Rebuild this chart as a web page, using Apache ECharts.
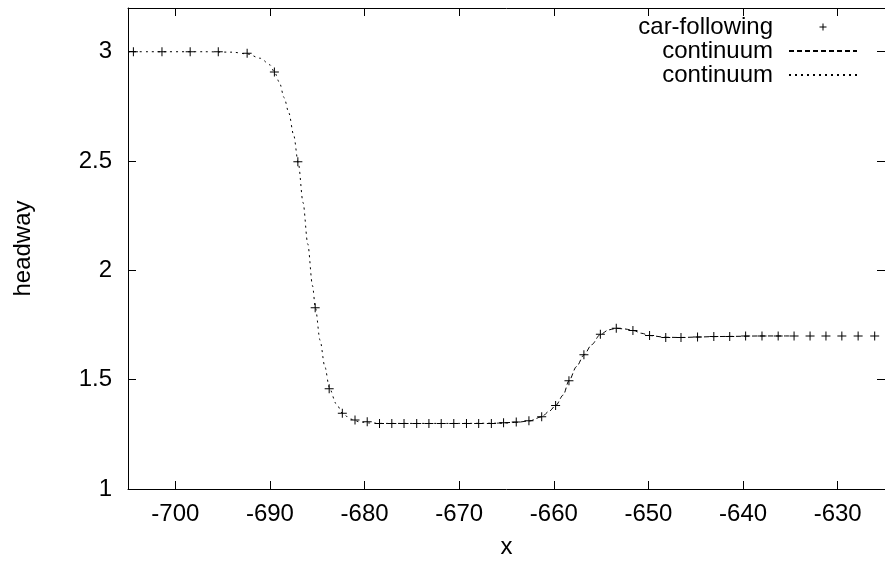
<!DOCTYPE html>
<html><head><meta charset="utf-8">
<script src="https://cdn.jsdelivr.net/npm/echarts@6/dist/echarts.min.js"></script>
<style>html,body{margin:0;padding:0;background:#fff}#c{width:885px;height:564px}</style>
</head><body><div id="c"></div>
<script>
// car-following positions (x) and headways (y)
const carX = [-704.43, -701.41, -698.43, -695.46, -692.41, -689.53, -687.05, -685.22, -683.74, -682.35,
  -681.01, -679.72, -678.42, -677.12, -675.83, -674.49, -673.20, -671.90, -670.57, -669.23,
  -667.94, -666.60, -665.31, -663.97, -662.63, -661.28, -659.81, -658.40, -656.82, -655.08,
  -653.40, -651.64, -649.88, -648.17, -646.56, -644.81, -643.09, -641.41, -639.73, -638.00,
  -636.29, -634.61, -632.92, -631.24, -629.56, -627.84, -626.09];
const carY = [3.0, 3.0, 3.0, 3.0, 2.993, 2.907, 2.497, 1.829, 1.459, 1.347,
  1.316, 1.308, 1.300, 1.300, 1.300, 1.300, 1.300, 1.300, 1.300, 1.300,
  1.300, 1.300, 1.303, 1.306, 1.312, 1.330, 1.382, 1.495, 1.614, 1.708,
  1.735, 1.725, 1.702, 1.693, 1.693, 1.695, 1.697, 1.698, 1.70, 1.70,
  1.70, 1.70, 1.70, 1.70, 1.70, 1.70, 1.70];
// continuum solution, dashed part (right)
const dashedX = [-666, -664, -662.6, -661.3, -660.5, -659.8, -659, -658.4, -657.6, -656.8, -656, -655.1,
  -654.2, -653.4, -652.5, -651.6, -650.7, -649.9, -648.2, -646.6, -644.8, -643.1, -641.4, -638, -635];
const dashedY = [1.301, 1.305, 1.311, 1.33, 1.355, 1.382, 1.43, 1.495, 1.56, 1.614, 1.66, 1.706,
  1.728, 1.735, 1.732, 1.725, 1.712, 1.702, 1.694, 1.693, 1.695, 1.697, 1.698, 1.70, 1.70];
// continuum solution, dotted part (left)
const dottedX = [-705, -697, -694, -692.4, -691, -690, -689.5, -689, -688.5, -688, -687.5, -687, -686.5, -686,
  -685.5, -685.2, -684.7, -684.2, -683.7, -683, -682.3, -681.5, -680.5, -679.5, -678, -670, -666, -664];
const dottedY = [3.0, 3.0, 2.998, 2.99, 2.97, 2.94, 2.905, 2.86, 2.79, 2.72, 2.62, 2.49, 2.31, 2.12,
  1.93, 1.83, 1.68, 1.56, 1.46, 1.39, 1.345, 1.32, 1.307, 1.302, 1.30, 1.30, 1.301, 1.305];
const xTicks = [-700, -690, -680, -670, -660, -650, -640, -630];
const yTicks = [1, 1.5, 2, 2.5, 3];

const FONT = "'Liberation Sans', Arial, sans-serif";
const FS = 24;
const plus = 'path://M0,4L9,4L9,5L0,5Z M4,0L5,0L5,9L4,9Z';
const legendPlus = 'path://M0,3L7,3L7,4L0,4Z M3,0L4,0L4,7L3,7Z';
const zip = (xs, ys) => xs.map((x, i) => [x, ys[i]]);

const axisLine = { show: true, lineStyle: { color: '#000', width: 1 } };
function xAx(pos, showLabel) {
  return {
    type: 'value', position: pos, min: -705, max: -625,
    axisLine: axisLine,
    axisTick: { show: true, inside: true, length: 8, customValues: xTicks, lineStyle: { color: '#000' } },
    axisLabel: { show: showLabel, customValues: xTicks, margin: 13, color: '#000', fontFamily: FONT, fontSize: FS },
    splitLine: { show: false },
    name: showLabel ? 'x' : '', nameLocation: 'middle', nameGap: 46,
    nameTextStyle: { color: '#000', fontFamily: FONT, fontSize: FS }
  };
}
function yAx(pos, showLabel) {
  return {
    type: 'value', position: pos, min: 1, max: 3.2,
    axisLine: axisLine,
    axisTick: { show: true, inside: true, length: 8, customValues: yTicks, lineStyle: { color: '#000' } },
    axisLabel: { show: showLabel, customValues: yTicks, margin: 16, color: '#000', fontFamily: FONT, fontSize: FS },
    splitLine: { show: false },
    name: showLabel ? 'headway' : '', nameLocation: 'middle', nameGap: 93, nameRotate: 90,
    nameTextStyle: { color: '#000', fontFamily: FONT, fontSize: FS }
  };
}

const chart = echarts.init(document.getElementById('c'), null, { renderer: 'canvas' });
chart.setOption({
  animation: false,
  backgroundColor: '#fff',
  grid: { left: 128, top: 8, width: 761, height: 484, containLabel: false },
  xAxis: [xAx('bottom', true), xAx('top', false)],
  yAxis: [yAx('left', true), yAx('right', false)],
  legend: {
    orient: 'vertical', align: 'right', right: 27, top: 15, padding: 0, itemGap: 0,
    itemWidth: 68, itemHeight: 7,
    formatter: n => n.split('#')[0],
    textStyle: { color: '#000', fontFamily: FONT, fontSize: FS, lineHeight: 24, padding: [0, 11, 0, 0] },
    data: [
      { name: 'car-following', icon: legendPlus, itemStyle: { color: '#000' } },
      { name: 'continuum#1', itemStyle: { color: 'rgba(0,0,0,0)', opacity: 0, borderWidth: 0 } },
      { name: 'continuum#2', itemStyle: { color: 'rgba(0,0,0,0)', opacity: 0, borderWidth: 0 } }
    ]
  },
  series: [
    {
      name: 'continuum#1', type: 'line', data: zip(dashedX, dashedY),
      symbol: 'none', smooth: 0.3, smoothMonotone: 'x',
      lineStyle: { color: '#000', width: 1, type: [5, 3] }, itemStyle: { color: '#000' }
    },
    {
      name: 'continuum#2', type: 'line', data: zip(dottedX, dottedY),
      symbol: 'none', smooth: 0.3, smoothMonotone: 'x',
      lineStyle: { color: '#000', width: 1, type: [2, 4] }, itemStyle: { color: '#000' }
    },
    {
      name: 'car-following', type: 'scatter', data: zip(carX, carY),
      symbol: plus, symbolSize: 9, itemStyle: { color: '#000', opacity: 1 }
    }
  ]
});
</script></body></html>
